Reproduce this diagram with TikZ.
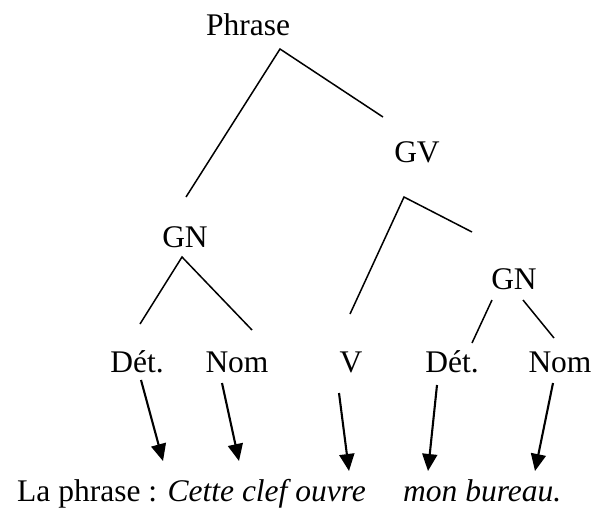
\documentclass[tikz,border=0pt]{standalone}
\usepackage{fontspec}
\setmainfont{Liberation Serif}
\usetikzlibrary{arrows.meta}
\begin{document}
\begin{tikzpicture}[x=1pt,y=-1pt,
  lbl/.style={inner sep=0pt,anchor=base,font=\fontsize{31.5}{36}\selectfont},
  branch/.style={line width=1.5pt},
  mapto/.style={line width=2.1pt,-{Triangle[length=17pt,width=15pt]}}]
\useasboundingbox (0,0) rectangle (595,507);
% labels
\node[lbl] (phrase) at (248,35) {Phrase};
\node[lbl] (gv) at (417,162) {GV};
\node[lbl] (gn1) at (185,247) {GN};
\node[lbl] (gn2) at (514,289) {GN};
\node[lbl] (det1) at (137,372) {Dét.};
\node[lbl] (nom1) at (237,372) {Nom};
\node[lbl] (v) at (351,372) {V};
\node[lbl] (det2) at (452,372) {Dét.};
\node[lbl] (nom2) at (560,372) {Nom};
\node[lbl,anchor=base west] (sent1) at (17,501) {La phrase : \textit{Cette clef ouvre}};
\node[lbl,anchor=base west] (sent2) at (403,501) {\textit{mon bureau.}};
% branch end points
\coordinate (pA) at (280,49);
\coordinate (pL) at (186,197);
\coordinate (pR) at (383,117);
\coordinate (gvA) at (404,197);
\coordinate (gvL) at (350,314);
\coordinate (gvR) at (472,232);
\coordinate (g1A) at (182,257);
\coordinate (g1L) at (140,324);
\coordinate (g1R) at (252,330);
\coordinate (g2La) at (492,300);
\coordinate (g2Lb) at (472,343);
\coordinate (g2Ra) at (523,300);
\coordinate (g2Rb) at (554,338);
% branches
\draw[branch] (pL) -- (pA) -- (pR);
\draw[branch] (gvL) -- (gvA) -- (gvR);
\draw[branch] (g1L) -- (g1A) -- (g1R);
\draw[branch] (g2La) -- (g2Lb);
\draw[branch] (g2Ra) -- (g2Rb);
% arrows
\coordinate (a1s) at (141,380); \coordinate (a1e) at (163,461);
\coordinate (a2s) at (222,383); \coordinate (a2e) at (239,461);
\coordinate (a3s) at (339,393); \coordinate (a3e) at (349,471);
\coordinate (a4s) at (437,385); \coordinate (a4e) at (428,471);
\coordinate (a5s) at (553,383); \coordinate (a5e) at (535,471);
\draw[mapto] (a1s) -- (a1e);
\draw[mapto] (a2s) -- (a2e);
\draw[mapto] (a3s) -- (a3e);
\draw[mapto] (a4s) -- (a4e);
\draw[mapto] (a5s) -- (a5e);
\end{tikzpicture}
\end{document}
